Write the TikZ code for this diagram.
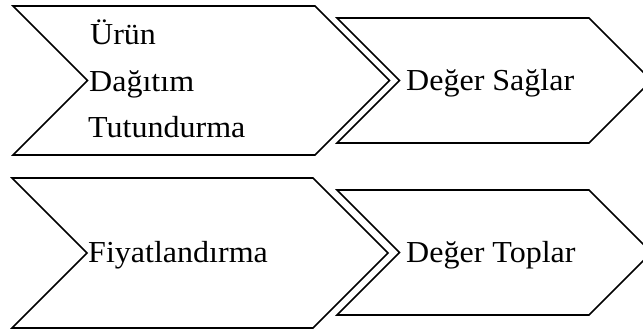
\documentclass[tikz,border=0pt]{standalone}
\usepackage{fontspec}
\setmainfont[FakeStretch=1.05]{Liberation Serif}
\begin{document}
\begin{tikzpicture}[x=1pt,y=-1pt,
  chev/.style={draw=black,fill=white,line width=1.6pt,line join=miter},
  lbl/.style={inner sep=0pt,anchor=base west,font=\fontsize{30.5}{30.5}\selectfont}]
\useasboundingbox (0,0) rectangle (643,334);
\clip (0,0) rectangle (643,334);
% chevron 1
\draw[chev] (13,6) -- (315,6) -- (389.5,80.5) -- (315,155) -- (13,155) -- (87.5,80.5) -- cycle;
% chevron 2
\draw[chev] (337,18) -- (589,18) -- (651.5,80.5) -- (589,143) -- (337,143) -- (399.5,80.5) -- cycle;
% chevron 3
\draw[chev] (12,178) -- (313,178) -- (388,253) -- (313,328) -- (12,328) -- (87,253) -- cycle;
% chevron 4
\draw[chev] (337,190) -- (589,190) -- (651.5,252.5) -- (589,315) -- (337,315) -- (399.5,252.5) -- cycle;
\node[lbl] (urun) at (90,45) {Ürün};
\node[lbl] (dagitim) at (89,92) {Dağıtım};
\node[lbl] (tutundurma) at (88,138) {Tutundurma};
\node[lbl] (saglar) at (406,91) {Değer Sağlar};
\node[lbl] (fiyat) at (88,262) {Fiyatlandırma};
\node[lbl] (toplar) at (406,262) {Değer Toplar};
\end{tikzpicture}
\end{document}
